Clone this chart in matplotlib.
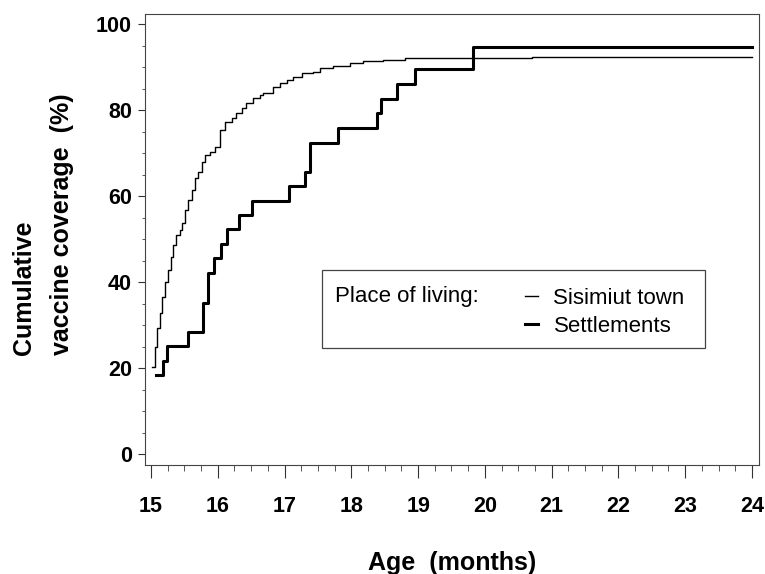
import matplotlib
matplotlib.use("Agg")
import matplotlib.pyplot as plt
from matplotlib.ticker import MultipleLocator
from matplotlib.patches import Rectangle
from matplotlib.lines import Line2D

# --- data ---
town_age = [15.02, 15.06, 15.09, 15.13, 15.16, 15.21, 15.25, 15.30, 15.33, 15.38,
            15.43, 15.46, 15.51, 15.56, 15.61, 15.66, 15.71, 15.76, 15.81, 15.88,
            15.96, 16.03, 16.11, 16.21, 16.28, 16.36, 16.43, 16.53, 16.63, 16.68,
            16.83, 16.93, 17.03, 17.13, 17.26, 17.43, 17.53, 17.73, 17.98, 18.18,
            18.48, 18.80, 20.70, 24.00]
town_cov = [20.4, 25.0, 29.4, 32.9, 36.6, 40.1, 42.9, 45.9, 48.7, 51.0,
            52.2, 53.7, 56.8, 59.1, 61.5, 64.2, 65.7, 68.0, 69.6, 70.4,
            71.5, 75.4, 77.3, 78.1, 79.3, 80.5, 81.6, 82.8, 83.6, 84.0,
            85.5, 86.3, 87.0, 87.8, 88.6, 89.0, 89.8, 90.3, 91.1, 91.5,
            91.7, 92.2, 92.5, 92.5]

sett_age = [15.07, 15.18, 15.24, 15.55, 15.78, 15.86, 15.94, 16.05, 16.14, 16.32,
            16.52, 17.07, 17.30, 17.38, 17.80, 18.39, 18.45, 18.69, 18.96, 19.82,
            24.00]
sett_cov = [18.5, 21.8, 25.1, 28.4, 35.3, 42.2, 45.6, 48.9, 52.3, 55.6,
            59.0, 62.4, 65.7, 72.5, 75.9, 79.3, 82.7, 86.1, 89.5, 94.7,
            94.7]

x_ticks = [15, 16, 17, 18, 19, 20, 21, 22, 23, 24]
y_ticks = [0, 20, 40, 60, 80, 100]
series_labels = ["Sisimiut town", "Settlements"]
legend_title = "Place of living:"

plt.rcParams['font.family'] = ['Liberation Sans', 'DejaVu Sans']

fig = plt.figure(figsize=(7.65, 5.74), dpi=100)
ax = fig.add_axes([0.1895, 0.1899, 0.8026, 0.7857])

ax.plot(town_age, town_cov, drawstyle='steps-post', color='black', lw=1.0)
ax.plot(sett_age, sett_cov, drawstyle='steps-post', color='black', lw=2.2)

ax.set_xlim(14.91, 24.105)
ax.set_ylim(-2.49, 102.4)

ax.set_xticks(x_ticks)
ax.set_yticks(y_ticks)
ax.xaxis.set_minor_locator(MultipleLocator(0.25))
ax.yaxis.set_minor_locator(MultipleLocator(5))

for s in ax.spines.values():
    s.set_linewidth(0.8)
    s.set_color('#444444')

ax.tick_params(axis='x', which='major', direction='out', length=9.4, width=0.8,
               pad=13, labelsize=15.5, color='#333333')
ax.tick_params(axis='x', which='minor', direction='out', length=4.6, width=0.7,
               color='#555555')
ax.tick_params(axis='y', which='major', direction='out', length=4.8, width=0.8,
               pad=4.5, labelsize=15.5, color='#333333')
ax.tick_params(axis='y', which='minor', direction='out', length=2.4, width=0.7,
               color='#555555')
for lab in ax.get_xticklabels() + ax.get_yticklabels():
    lab.set_fontweight('bold')

ax.set_xlabel("Age  (months)", fontsize=18, fontweight='bold')
ax.xaxis.set_label_coords(0.50, -0.19)
ax.set_ylabel("Cumulative\nvaccine coverage  (%)", fontsize=18, fontweight='bold',
              multialignment='left', linespacing=1.75)
ax.yaxis.set_label_coords(-0.115, 0.5335)

# legend box
ax.add_patch(Rectangle((0.2878, 0.2588), 0.912 - 0.2878, 0.4324 - 0.2588,
                       transform=ax.transAxes, fill=False, lw=0.9,
                       edgecolor='#444444'))
ax.text(0.3094, 0.3732, legend_title, transform=ax.transAxes, fontsize=16,
        va='center', ha='left')
handles = [Line2D([], [], color='black', lw=1.0),
           Line2D([], [], color='black', lw=2.2)]
ax.legend(handles, series_labels, loc='center left', bbox_to_anchor=(0.619, 0.338),
          frameon=False, fontsize=16, handlelength=0.6, handletextpad=0.68,
          labelspacing=0.3, borderpad=0.0, borderaxespad=0.0)

fig.savefig("out.png", dpi=100, facecolor='white')
